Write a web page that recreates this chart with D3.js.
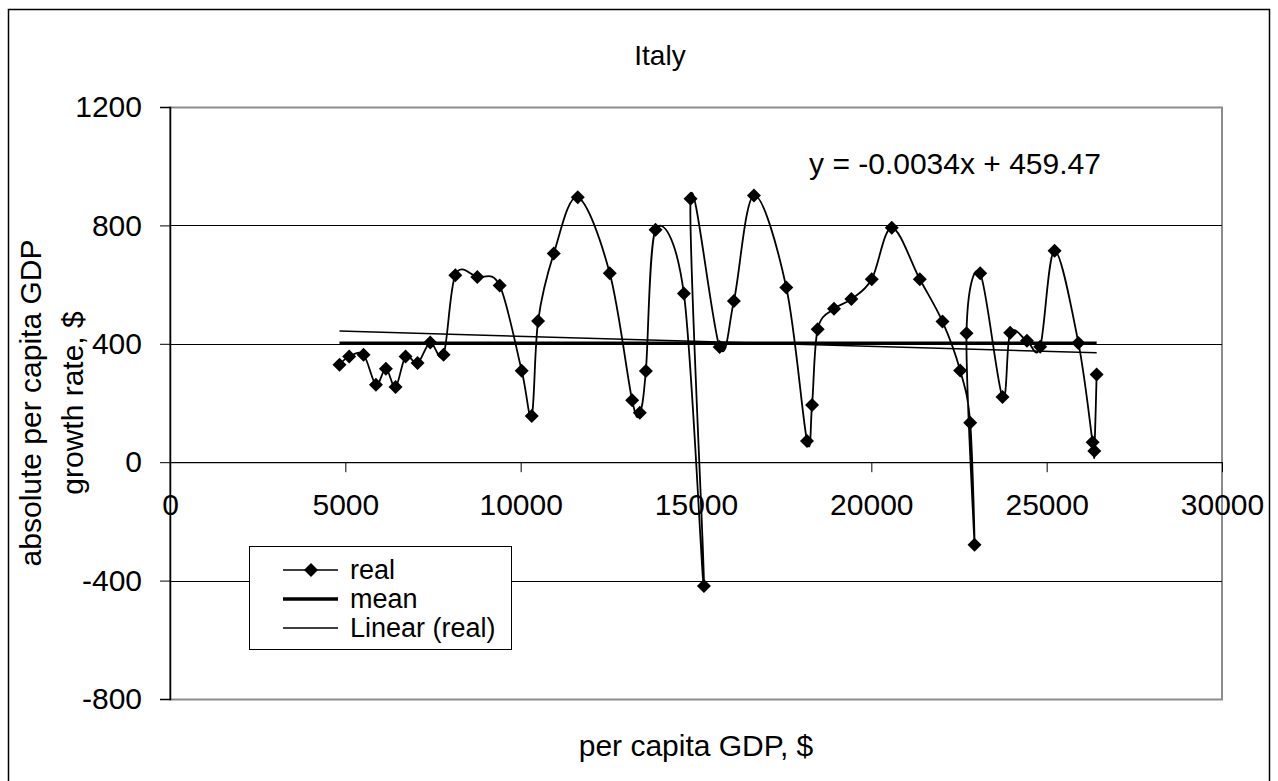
<!DOCTYPE html>
<html>
<head>
<meta charset="utf-8">
<script src="https://cdn.jsdelivr.net/npm/d3@7/dist/d3.min.js"></script>
<style>
  html, body { margin: 0; padding: 0; background: #fff; }
  svg { display: block; font-family: "Liberation Sans", Arial, sans-serif; }
</style>
</head>
<body>
<svg id="chart" width="1278" height="781"></svg>
<script>
// Per capita GDP ($) for each year, in chronological order
const gdp = [
  4833, 5110, 5519, 5872, 6157, 6432, 6718, 7060, 7422, 7802,
  8136, 8764, 9401, 10030, 10316, 10497, 10944, 11628, 12541, 13180,
  13398, 13570, 13846, 14654, 15226, 14845, 15673, 16081, 16652, 17576,
  18166, 18309, 18470, 18936, 19431, 20012, 20583, 21382, 22029, 22533,
  22819, 22943, 22714, 23105, 23740, 23960, 24437, 24816, 25226, 25905,
  26311, 26359, 26425
];
// Absolute per capita GDP growth ($) in the same years
const growth = [
  329, 357, 363, 262, 316, 254, 357, 335, 404, 363,
  632, 626, 597, 309, 156, 477, 705, 895, 638, 209,
  167, 308, 785, 570, -418, 890, 389, 545, 901, 590,
  72, 193, 449, 518, 551, 618, 792, 618, 475, 310,
  133, -279, 436, 638, 220, 437, 410, 390, 714, 403,
  67, 38, 296
];
const meanValue = [402];
const trendSlope = -0.0034;
const trendIntercept = 459.47;
const xTicks = [0, 5000, 10000, 15000, 20000, 25000, 30000];
const yTicks = [-800, -400, 0, 400, 800, 1200];
const legendLabels = ["real", "mean", "Linear (real)"];

const svg = d3.select("#chart");
const plot = { left: 170, top: 107, right: 1222, bottom: 699 };

const x = d3.scaleLinear().domain([0, 30000]).range([plot.left, plot.right]);
const y = d3.scaleLinear().domain([-800, 1200]).range([plot.bottom, plot.top]);
const fmt = d => String(d); // plain hyphen for negatives

// outer chart frame (bottom edge runs off the page)
svg.append("rect")
  .attr("x", 8.5).attr("y", 9.5).attr("width", 1261).attr("height", 800)
  .attr("fill", "#fff").attr("stroke", "#000").attr("stroke-width", 1.5);

// plot area border
svg.append("rect")
  .attr("x", plot.left).attr("y", plot.top + 0.5)
  .attr("width", plot.right - plot.left).attr("height", plot.bottom - plot.top)
  .attr("fill", "#fff").attr("stroke", "#8c8c8c").attr("stroke-width", 2);

// horizontal gridlines
svg.append("g").selectAll("line")
  .data(yTicks.filter(v => v !== 1200 && v !== -800 && v !== 0))
  .join("line")
  .attr("x1", plot.left).attr("x2", plot.right)
  .attr("y1", d => Math.round(y(d)) + 0.5).attr("y2", d => Math.round(y(d)) + 0.5)
  .attr("stroke", "#000").attr("stroke-width", 1);

// y axis
const yAxis = d3.axisLeft(y).tickValues(yTicks).tickSize(10).tickPadding(18)
  .tickFormat(fmt);
const gy = svg.append("g").attr("transform", `translate(${plot.left},0)`).call(yAxis);
gy.select(".domain").attr("stroke", "#000").attr("stroke-width", 1.5);
gy.selectAll(".tick line").attr("stroke", "#000");
gy.selectAll(".tick text").attr("font-size", 30).attr("fill", "#000")
  .attr("font-family", "Liberation Sans, Arial, sans-serif");

// x axis drawn along y = 0
const xAxis = d3.axisBottom(x).tickValues(xTicks).tickSize(10).tickPadding(22)
  .tickSizeOuter(0).tickFormat(fmt);
const gx = svg.append("g").attr("transform", `translate(0,${y(0)})`).call(xAxis);
gx.select(".domain").attr("stroke", "#000").attr("stroke-width", 1.2);
gx.selectAll(".tick line").attr("stroke", "#000");
gx.selectAll(".tick text").attr("font-size", 30).attr("fill", "#000")
  .attr("font-family", "Liberation Sans, Arial, sans-serif");

const xMin = d3.min(gdp), xMax = d3.max(gdp);

// mean line
svg.append("line")
  .attr("x1", x(xMin)).attr("x2", x(xMax))
  .attr("y1", y(meanValue[0])).attr("y2", y(meanValue[0]))
  .attr("stroke", "#000").attr("stroke-width", 3.5);

// linear trend from the fitted equation
svg.append("line")
  .attr("x1", x(xMin)).attr("x2", x(xMax))
  .attr("y1", y(trendSlope * xMin + trendIntercept))
  .attr("y2", y(trendSlope * xMax + trendIntercept))
  .attr("stroke", "#000").attr("stroke-width", 1.5);

// smoothed series line
const pts = gdp.map((g, i) => [g, growth[i]]);
const line = d3.line().x(d => x(d[0])).y(d => y(d[1])).curve(d3.curveCatmullRom.alpha(0));
svg.append("path").attr("d", line(pts))
  .attr("fill", "none").attr("stroke", "#000").attr("stroke-width", 1.8);

// diamond markers
const diamond = r => `M0,${-r}L${r},0L0,${r}L${-r},0Z`;
svg.append("g").selectAll("path")
  .data(pts).join("path")
  .attr("transform", d => `translate(${x(d[0])},${y(d[1])})`)
  .attr("d", diamond(7)).attr("fill", "#000");

// title and axis titles
svg.append("text").attr("x", 660).attr("y", 65).attr("text-anchor", "middle")
  .attr("font-size", 28).text("Italy");
svg.append("text").attr("x", 696).attr("y", 756).attr("text-anchor", "middle")
  .attr("font-size", 30).text("per capita GDP, $");
svg.append("text").attr("transform", "translate(41,403) rotate(-90)")
  .attr("text-anchor", "middle").attr("font-size", 30).text("absolute per capita GDP");
svg.append("text").attr("transform", "translate(83,403) rotate(-90)")
  .attr("text-anchor", "middle").attr("font-size", 30).text("growth rate, $");

// trendline equation
svg.append("text").attr("x", 955).attr("y", 174).attr("text-anchor", "middle")
  .attr("font-size", 30)
  .text(`y = ${trendSlope}x + ${trendIntercept}`);

// legend
const lg = svg.append("g");
lg.append("rect").attr("x", 249.5).attr("y", 546.5).attr("width", 262).attr("height", 103)
  .attr("fill", "#fff").attr("stroke", "#000").attr("stroke-width", 1);
const rowY = [570, 599, 628];
const rows = lg.selectAll("g.row").data(legendLabels).join("g").attr("class", "row")
  .attr("transform", (d, i) => `translate(0,${rowY[i]})`);
rows.append("line").attr("x1", 283).attr("x2", 338).attr("y1", 0).attr("y2", 0)
  .attr("stroke", "#000").attr("stroke-width", (d, i) => i === 1 ? 3.5 : 1.5);
rows.filter((d, i) => i === 0).append("path").attr("d", diamond(7))
  .attr("transform", "translate(311,0)").attr("fill", "#000");
rows.append("text").attr("x", 350).attr("y", 0).attr("dy", "0.35em")
  .attr("font-size", 27).text(d => d);
</script>
</body>
</html>
